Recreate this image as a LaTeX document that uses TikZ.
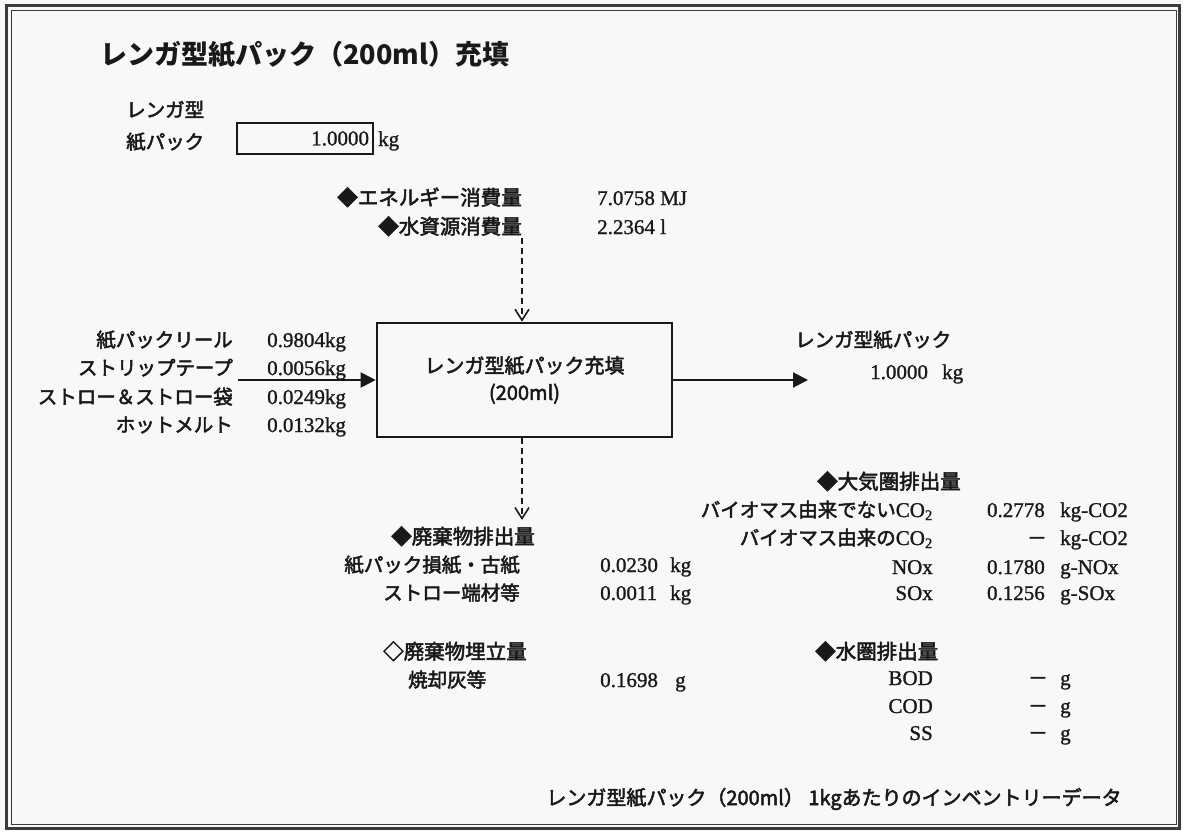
\documentclass[tikz,border=0pt]{standalone}
\usepackage{fontspec}
\setmainfont[FakeBold=1.2]{Liberation Serif}
\newfontfamily\jp[FakeBold=2.5]{Noto Sans CJK JP}
\newfontfamily\jpt{Noto Sans CJK JP}
\usetikzlibrary{arrows.meta}
\definecolor{bgc}{RGB}{248,248,246}
\definecolor{framec}{RGB}{60,60,60}
\definecolor{inkc}{RGB}{25,25,25}
\begin{document}
\begin{tikzpicture}[x=1pt,y=-1pt, every node/.style={text=inkc},
  jt/.style={font=\jp\fontsize{19.5}{22}\selectfont, inner sep=0pt},
  jh/.style={font=\jp\fontsize{20.5}{23}\selectfont, inner sep=0pt},
  lt/.style={font=\fontsize{21}{24}\selectfont, inner sep=0pt},
  rl/.style={anchor=base east},
  ll/.style={anchor=base west},
  proc/.style={draw=inkc, line width=2.6pt, inner sep=0pt},
  flow/.style={draw=inkc, line width=2pt, -{Triangle[length=15pt,width=15pt]}},
  aux/.style={draw=inkc, line width=1.6pt, dash pattern=on 6pt off 4pt, -{Straight Barb[length=11pt,width=14pt]}},
]
\fill[bgc] (0,0) rectangle (1183,831);
\useasboundingbox (0,0) rectangle (1183,831);
\draw[framec, line width=2.5pt] (6.5,5.5) rectangle (1179.5,828.5);
\draw[framec, line width=1pt] (11,10) rectangle (1176,824);

% title
\node[anchor=base west, font=\jpt\bfseries\fontsize{27}{30}\selectfont, inner sep=0pt] (title) at (100,64) {レンガ型紙パック（200ml）充填};

% reference flow
\node[jt, ll] (ref1) at (126,117) {レンガ型};
\node[jt, ll] (ref2) at (126,149) {紙パック};
\node[draw=inkc, line width=2.4pt, minimum width=136pt, minimum height=31pt, inner sep=0pt, text width=128pt, align=right, lt] (refbox) at (305,138.5) {1.0000};
\node[lt, ll] (refunit) at (378,146) {kg};

% energy and water
\node[jh, rl] (energy) at (522,205) {◆エネルギー消費量};
\node[lt, ll] (energyv) at (597,205) {7.0758 MJ};
\node[jh, rl] (water) at (522,234) {◆水資源消費量};
\node[lt, ll] (waterv) at (597,234) {2.2364 l};

% process box
\node[proc, minimum width=295pt, minimum height=114pt, font=\jp\fontsize{20}{27}\selectfont, align=center] (proc) at (524.5,380) {レンガ型紙パック充填\\(200ml)};

% inputs
\node[jt, rl] (in1) at (233,347) {紙パックリール};
\node[jt, rl] (in2) at (233,375) {ストリップテープ};
\node[jt, rl] (in3) at (233,404) {ストロー＆ストロー袋};
\node[jt, rl] (in4) at (233,432) {ホットメルト};
\node[lt, ll] (in1v) at (267,347) {0.9804kg};
\node[lt, ll] (in2v) at (267,375) {0.0056kg};
\node[lt, ll] (in3v) at (267,404) {0.0249kg};
\node[lt, ll] (in4v) at (267,432) {0.0132kg};
\coordinate (inS) at (238,380);
\draw[flow] (inS) -- (proc.west);

% output
\coordinate (outE) at (808,380);
\draw[flow] (proc.east) -- (outE);
\node[jt, ll] (out1) at (795,347) {レンガ型紙パック};
\node[lt, ll] (out1v) at (870,379) {1.0000};
\node[lt, ll] (out1u) at (942,379) {kg};

% auxiliary dashed connectors
\coordinate (auxT) at (522,238);
\draw[aux] (auxT) -- (proc.north -| auxT);
\coordinate (auxB) at (522,520);
\draw[aux] (proc.south -| auxB) -- (auxB);

% waste
\node[jh, rl] (waste) at (535,544) {◆廃棄物排出量};
\node[jt, rl] (w1) at (520,572) {紙パック損紙・古紙};
\node[jt, rl] (w2) at (520,600) {ストロー端材等};
\node[lt, ll] (w1v) at (600,572) {0.0230};
\node[lt, ll] (w1u) at (670,572) {kg};
\node[lt, ll] (w2v) at (600,600) {0.0011};
\node[lt, ll] (w2u) at (670,600) {kg};

% landfill
\node[jh, ll] (land) at (383,659) {◇廃棄物埋立量};
\node[jt, ll] (l1) at (408,687) {焼却灰等};
\node[lt, ll] (l1v) at (600,687) {0.1698};
\node[lt, ll] (l1u) at (675,687) {g};

% air emissions
\node[jh, ll] (air) at (817,489) {◆大気圏排出量};
\node[lt, rl] (a1) at (933,517) {{\jp\fontsize{19.5}{22}\selectfont バイオマス由来でない}CO\textsubscript{2}};
\node[lt, rl] (a2) at (933,545) {{\jp\fontsize{19.5}{22}\selectfont バイオマス由来の}CO\textsubscript{2}};
\node[lt, rl] (a3) at (933,574) {NOx};
\node[lt, rl] (a4) at (933,600) {SOx};
\node[lt, rl] (a1v) at (1045,517) {0.2778};
\node[jt, rl] (a2v) at (1047,545) {－};
\node[lt, rl] (a3v) at (1045,574) {0.1780};
\node[lt, rl] (a4v) at (1045,600) {0.1256};
\node[lt, ll] (a1u) at (1060,517) {kg-CO2};
\node[lt, ll] (a2u) at (1060,545) {kg-CO2};
\node[lt, ll] (a3u) at (1060,574) {g-NOx};
\node[lt, ll] (a4u) at (1060,600) {g-SOx};

% water emissions
\node[jh, ll] (wat) at (815,659) {◆水圏排出量};
\node[lt, rl] (b1) at (933,685) {BOD};
\node[lt, rl] (b2) at (933,713) {COD};
\node[lt, rl] (b3) at (933,740) {SS};
\node[jt, rl] (b1v) at (1048,685) {－};
\node[jt, rl] (b2v) at (1048,713) {－};
\node[jt, rl] (b3v) at (1048,740) {－};
\node[lt, ll] (b1u) at (1060,685) {g};
\node[lt, ll] (b2u) at (1060,713) {g};
\node[lt, ll] (b3u) at (1060,740) {g};

% footer
\node[anchor=base, font=\jp\fontsize{20}{23}\selectfont, inner sep=0pt] (foot) at (834,805) {レンガ型紙パック（200ml） 1kgあたりのインベントリーデータ};
\end{tikzpicture}
\end{document}
